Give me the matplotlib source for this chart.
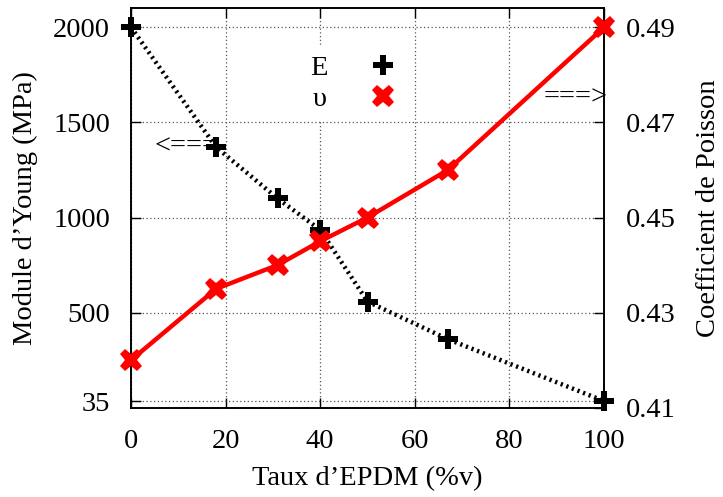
import matplotlib
matplotlib.use("Agg")
import matplotlib.pyplot as plt
from matplotlib.lines import Line2D

plt.rcParams['font.family'] = ['Liberation Serif', 'DejaVu Serif']

# Data
taux_epdm = [0, 18, 31, 40, 50, 67, 100]
module_young = [2000, 1370, 1100, 935, 558, 360, 35]
coef_poisson = [0.42, 0.435, 0.44, 0.445, 0.45, 0.46, 0.49]

x_ticks = [0, 20, 40, 60, 80, 100]
y_ticks = [35, 500, 1000, 1500, 2000]
y2_ticks = [0.41, 0.43, 0.45, 0.47, 0.49]
y2_ticklabels = ["0.41", "0.43", "0.45", "0.47", "0.49"]

FS = 20.5

fig = plt.figure(figsize=(7.23, 4.97), dpi=100)
ax = fig.add_axes([0.1812, 0.1797, 0.8354 - 0.1812, 0.9833 - 0.1797])
ax2 = ax.twinx()

ax.plot(taux_epdm, module_young, color='black', lw=3.2, linestyle=(0, (0.5, 0.85)),
        marker='P', markersize=14, markeredgewidth=0, zorder=3, clip_on=False)
ax2.plot(taux_epdm, coef_poisson, color='#ff0000', lw=3.2, linestyle='-',
         marker='X', markersize=16, markeredgewidth=0, zorder=3, clip_on=False)

ax.set_xlim(0, 100)
ax.set_ylim(0, 2100)
ax2.set_ylim(0.41, 0.494)

ax.set_xticks(x_ticks)
ax.set_yticks(y_ticks)
ax2.set_yticks(y2_ticks)
ax2.set_yticklabels(y2_ticklabels)

ax.tick_params(axis='both', direction='in', length=7, width=1, labelsize=FS,
               top=True, right=False)
ax.tick_params(axis='y', pad=15)
ax.tick_params(axis='x', pad=15)
ax2.tick_params(axis='y', direction='in', length=7, width=1, labelsize=FS, pad=16)

ax.grid(True, color='#555555', linestyle=(0, (1, 2)), linewidth=0.9)
for sp in list(ax.spines.values()) + list(ax2.spines.values()):
    sp.set_linewidth(1.2)

ax.set_xlabel('Taux d’EPDM (%v)', fontsize=FS, labelpad=9)
ax.set_ylabel('Module d’Young (MPa)', fontsize=FS, labelpad=11)
ax2.set_ylabel('Coefficient de Poisson', fontsize=FS, labelpad=14)

handles = [Line2D([], [], color='black', marker='P', markersize=14, markeredgewidth=0, linestyle='none'),
           Line2D([], [], color='#ff0000', marker='X', markersize=16, markeredgewidth=0, linestyle='none')]
leg = ax2.legend(handles, ['E', 'υ'], loc='center', bbox_to_anchor=(0.470, 0.812),
                 markerfirst=False, frameon=True, fontsize=FS, handlelength=1.0,
                 handletextpad=1.45, labelspacing=0.2, borderpad=0.3)
leg.get_frame().set_edgecolor('none')
leg.get_frame().set_facecolor('white')
leg.get_frame().set_alpha(1)

ax.text(5, 1370, '<===', fontsize=FS, ha='left', va='center', zorder=2)
ax.text(100.8, 1626, '===>', fontsize=FS, ha='right', va='center', zorder=2)

fig.savefig('out.png', dpi=100)
